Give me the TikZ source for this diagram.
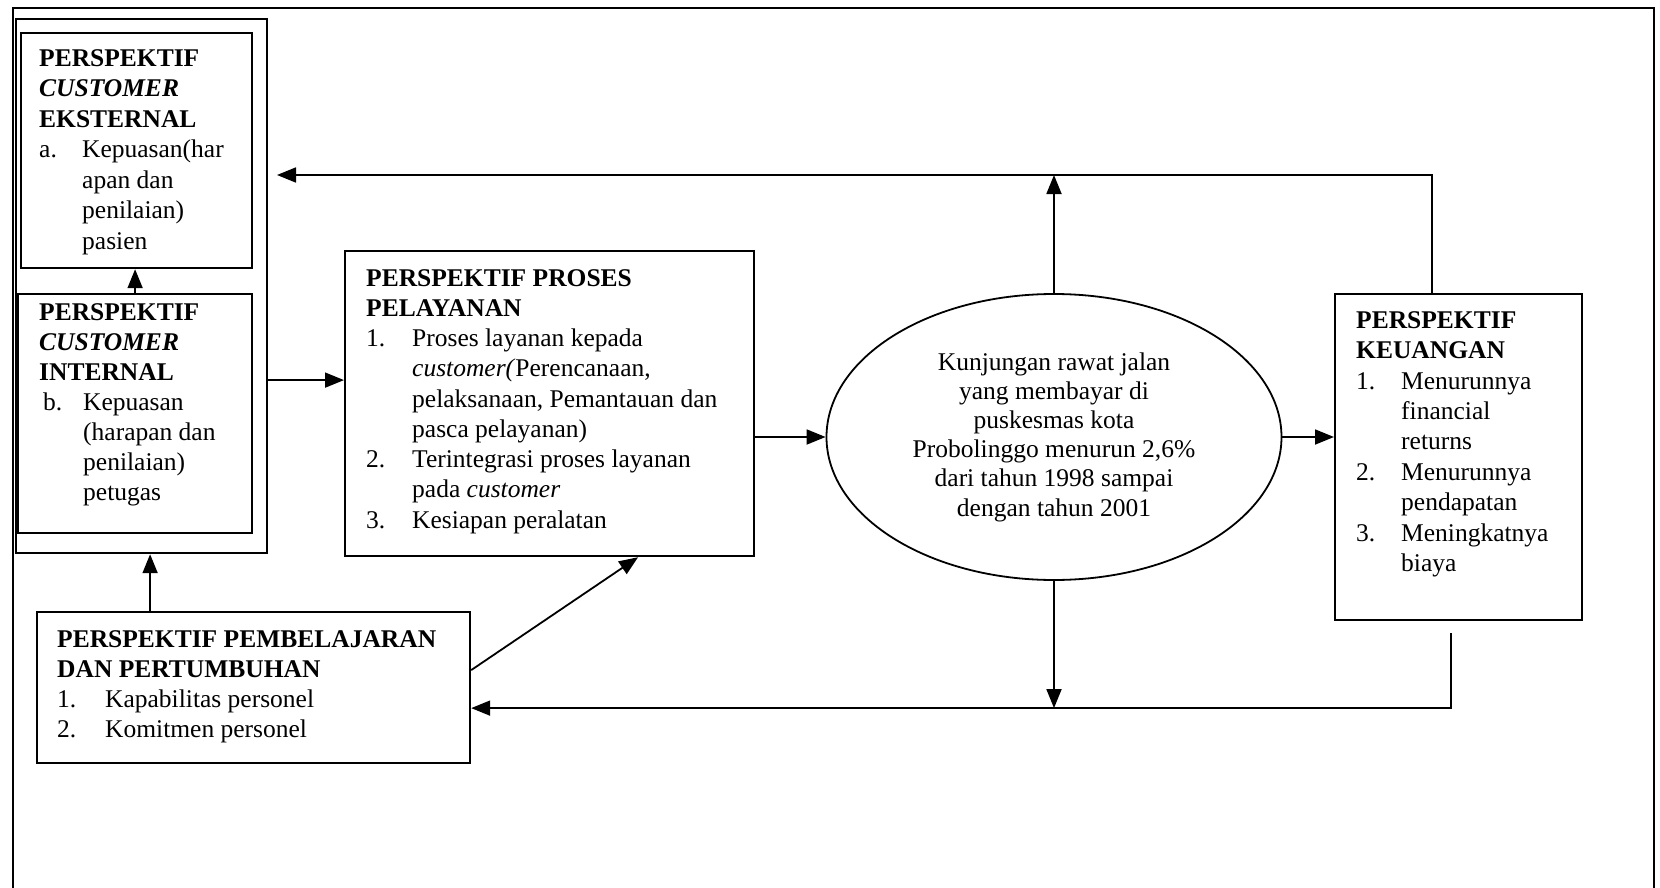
\documentclass[tikz,border=0pt]{standalone}
\usepackage{fontspec}
\setmainfont{Liberation Serif}
\usetikzlibrary{arrows.meta,shapes.geometric}

% strut that fixes the height of the first line of each text block
\newcommand{\firstln}{\rule{0pt}{20pt}}
% list label set in a box of given width
\newcommand{\numlab}[2]{\makebox[#1][l]{#2}}

\begin{document}
\begin{tikzpicture}[x=1pt,y=-1pt,
  box/.style={draw, line width=2.2pt, rectangle, anchor=north west, inner sep=0pt},
  txt/.style={anchor=north west, inner sep=0pt, align=left},
  arr/.style={line width=1.8pt, -{Triangle[length=19pt,width=15pt]}},
  ln/.style={line width=1.8pt},
  pageframe/.style={line width=1.6pt}]

\useasboundingbox (0,0) rectangle (1660,888);

% page frame (open at the bottom)
\draw[pageframe] (13,888) -- (13,8) -- (1654,8) -- (1654,888);

% boxes
\node[box, minimum width=251pt, minimum height=534pt] (lbox) at (15,18) {};
\node[box, minimum width=231pt, minimum height=235pt] (eks) at (20,32) {};
\node[box, minimum width=234pt, minimum height=239pt] (int) at (17,293) {};
\node[box, minimum width=409pt, minimum height=305pt] (proses) at (344,250) {};
\node[box, minimum width=247pt, minimum height=326pt] (keu) at (1334,293) {};
\node[box, minimum width=433pt, minimum height=151pt] (pemb) at (36,611) {};
\node[draw, ellipse, line width=1.8pt, minimum width=455pt, minimum height=286pt,
      inner sep=0pt, align=center, font=\fontsize{25.5}{29.2}\selectfont] (goal) at (1054,437)
  {Kunjungan rawat jalan\\ yang membayar di\\ puskesmas kota\\ Probolinggo menurun 2,6\%\\
   dari tahun 1998 sampai\\ dengan tahun 2001};

% box texts
\node[txt, font=\fontsize{25.5}{30.5}\selectfont] (eks-t) at (39,46)
  {\firstln\textbf{PERSPEKTIF}\\ \textbf{\textit{CUSTOMER}}\\ \textbf{EKSTERNAL}\\
   \numlab{43pt}{a.}Kepuasan(har\\ \hspace*{43pt}apan dan\\ \hspace*{43pt}penilaian)\\
   \hspace*{43pt}pasien};

\node[txt, font=\fontsize{25.5}{30}\selectfont] (int-t) at (39,300)
  {\firstln\textbf{PERSPEKTIF}\\ \textbf{\textit{CUSTOMER}}\\ \textbf{INTERNAL}\\
   \hspace*{4pt}\numlab{40pt}{b.}Kepuasan\\ \hspace*{44pt}(harapan dan\\
   \hspace*{44pt}penilaian)\\ \hspace*{44pt}petugas};

\node[txt, font=\fontsize{25.5}{30.25}\selectfont] (proses-t) at (366,266)
  {\firstln\textbf{PERSPEKTIF PROSES}\\ \textbf{PELAYANAN}\\
   \numlab{46pt}{1.}Proses layanan kepada\\
   \hspace*{46pt}\textit{customer(}Perencanaan,\\
   \hspace*{46pt}pelaksanaan, Pemantauan dan\\
   \hspace*{46pt}pasca pelayanan)\\
   \numlab{46pt}{2.}Terintegrasi proses layanan\\
   \hspace*{46pt}pada \textit{customer}\\
   \numlab{46pt}{3.}Kesiapan peralatan};

\node[txt, font=\fontsize{25.5}{30.4}\selectfont] (keu-t) at (1356,308)
  {\firstln\textbf{PERSPEKTIF}\\ \textbf{KEUANGAN}\\
   \numlab{45pt}{1.}Menurunnya\\ \hspace*{45pt}financial\\ \hspace*{45pt}returns\\
   \numlab{45pt}{2.}Menurunnya\\ \hspace*{45pt}pendapatan\\
   \numlab{45pt}{3.}Meningkatnya\\ \hspace*{45pt}biaya};

\node[txt, font=\fontsize{25.5}{30}\selectfont] (pemb-t) at (57,627)
  {\firstln\textbf{PERSPEKTIF PEMBELAJARAN}\\ \textbf{DAN PERTUMBUHAN}\\
   \numlab{48pt}{1.}Kapabilitas personel\\ \numlab{48pt}{2.}Komitmen personel};

% feedback loop ends
\coordinate (fbtop) at (277,175);
\coordinate (fbbot) at (1451,633);
\coordinate (fbline) at ([yshift=-20.5pt]pemb.east);

% connectors
\draw[arr] (int.north) -- (int.north |- eks.south);
\draw[arr] ([xshift=8.5pt]lbox.south |- pemb.north) -- ([xshift=8.5pt]lbox.south);
\draw[arr] ([yshift=23.5pt]proses.west -| lbox.east) -- ([yshift=23.5pt]proses.west);
\draw[arr] (proses.east |- goal.west) -- (goal.west);
\draw[arr] (goal.east) -- (goal.east -| keu.west);
\draw[arr] ([yshift=17.5pt]pemb.east) -- ([xshift=88.5pt]proses.south);
\draw[arr] (goal.north) -- (goal.north |- fbtop);
\draw[arr] ([xshift=-26.5pt]keu.north) |- (fbtop);
\draw[arr] (goal.south) -- (goal.south |- fbline);
\draw[arr] (fbbot) |- (fbline);

\end{tikzpicture}
\end{document}
